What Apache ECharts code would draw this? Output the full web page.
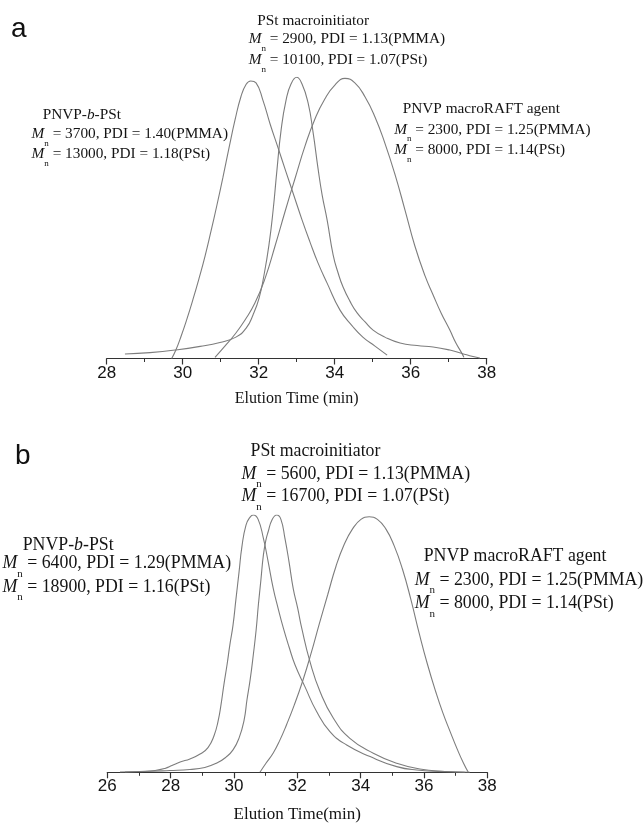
<!DOCTYPE html>
<html><head><meta charset="utf-8">
<script src="https://cdn.jsdelivr.net/npm/echarts@6/dist/echarts.min.js"></script>
<style>html,body{margin:0;padding:0;background:#fff}#c{width:643px;height:827px}</style>
</head><body><div id="c"></div>
<script>
// ---- Panel a data (elution time min, normalized intensity) ----
const ticksA = [28, 30, 32, 34, 36, 38];
const pnvpPstA = [[29.71,0],[29.82,0.03],[29.96,0.08],[30.11,0.14],[30.27,0.21],[30.43,0.285],[30.59,0.365],[30.74,0.45],[30.90,0.545],[31.06,0.645],[31.22,0.75],[31.38,0.85],[31.53,0.93],[31.67,0.975],[31.79,0.987],[31.93,0.980],[32.11,0.919],[32.30,0.834],[32.51,0.749],[32.72,0.663],[32.93,0.578],[33.14,0.493],[33.35,0.414],[33.56,0.340],[33.80,0.268],[34.14,0.172],[34.46,0.116],[34.74,0.076],[35.06,0.044],[35.38,0.012]];
const pstA = [[28.48,0.016],[29.14,0.021],[29.80,0.030],[30.46,0.043],[30.98,0.057],[31.40,0.076],[31.67,0.108],[31.85,0.155],[32.01,0.215],[32.14,0.297],[32.27,0.404],[32.38,0.528],[32.48,0.670],[32.59,0.813],[32.72,0.919],[32.85,0.976],[33.00,1.0],[33.14,0.976],[33.30,0.909],[33.43,0.805],[33.56,0.677],[33.67,0.581],[33.80,0.493],[33.96,0.368],[34.09,0.304],[34.22,0.254],[34.40,0.204],[34.59,0.162],[34.80,0.130],[35.01,0.101],[35.32,0.076],[35.72,0.055],[36.17,0.046],[36.59,0.041],[37.03,0.030],[37.35,0.018],[37.64,0.007],[37.82,0.002]];
const raftA = [[30.85,0.004],[31.11,0.044],[31.38,0.087],[31.64,0.137],[31.90,0.197],[32.17,0.286],[32.43,0.400],[32.69,0.521],[32.96,0.642],[33.22,0.756],[33.48,0.852],[33.74,0.923],[34.01,0.973],[34.27,0.996],[34.53,0.980],[34.80,0.930],[35.06,0.859],[35.32,0.766],[35.59,0.653],[35.85,0.528],[36.11,0.400],[36.38,0.293],[36.59,0.226],[36.80,0.162],[37.03,0.101],[37.19,0.055],[37.34,0.020],[37.40,0.004]];

// ---- Panel b data ----
const ticksB = [26, 28, 30, 32, 34, 36, 38];
const pnvpPstB = [[26.56,0.001],[27.03,0.003],[27.51,0.007],[27.82,0.015],[28.04,0.026],[28.30,0.040],[28.61,0.052],[28.93,0.071],[29.18,0.096],[29.37,0.142],[29.50,0.200],[29.59,0.262],[29.68,0.339],[29.78,0.417],[29.87,0.495],[29.97,0.572],[30.06,0.670],[30.16,0.778],[30.25,0.876],[30.38,0.961],[30.51,0.992],[30.61,1.0],[30.76,0.984],[30.93,0.909],[31.07,0.825],[31.24,0.715],[31.39,0.639],[31.56,0.560],[31.74,0.487],[31.93,0.417],[32.24,0.333],[32.61,0.236],[33.03,0.158],[33.56,0.106],[34.30,0.061],[35.14,0.022],[35.77,0.009],[36.82,0.002],[37.45,0]];
const pstB = [[26.40,0.001],[27.19,0.003],[27.98,0.007],[28.61,0.011],[29.08,0.019],[29.46,0.036],[29.75,0.059],[29.97,0.087],[30.16,0.133],[30.32,0.203],[30.41,0.281],[30.51,0.359],[30.61,0.456],[30.70,0.553],[30.77,0.650],[30.85,0.747],[30.93,0.845],[31.01,0.903],[31.08,0.935],[31.20,0.981],[31.35,1.0],[31.48,0.984],[31.61,0.909],[31.74,0.817],[31.87,0.715],[32.01,0.639],[32.14,0.560],[32.40,0.430],[32.72,0.313],[33.14,0.210],[33.66,0.132],[34.40,0.074],[35.14,0.035],[35.87,0.013],[36.66,0.003],[37.29,0]];
const raftB = [[30.82,0],[31.01,0.035],[31.24,0.075],[31.45,0.125],[31.66,0.185],[31.90,0.26],[32.17,0.355],[32.43,0.46],[32.69,0.575],[32.96,0.69],[33.22,0.80],[33.48,0.885],[33.74,0.945],[34.01,0.983],[34.27,0.993],[34.53,0.983],[34.80,0.945],[35.06,0.88],[35.32,0.79],[35.59,0.67],[35.85,0.54],[36.11,0.42],[36.38,0.31],[36.60,0.23],[36.82,0.16],[37.05,0.09],[37.25,0.035],[37.40,0]];

const SERIF = '"Liberation Serif","Times New Roman",serif';
const SANS = '"Liberation Sans",Arial,sans-serif';
const lineColor = '#7d7d7d';
const ink = '#141414';

function xAxisOf(grid, ticks, name, nameSize, gap) {
  return {
    type: 'value', gridIndex: grid,
    min: ticks[0], max: ticks[ticks.length - 1], interval: ticks[1] - ticks[0],
    name: name, nameLocation: 'middle', nameGap: gap,
    nameTextStyle: { fontFamily: SERIF, fontSize: nameSize, color: ink },
    axisLine: { show: true, onZero: false, lineStyle: { color: '#333', width: 1.2 } },
    axisTick: { show: true, inside: false, length: 6, lineStyle: { color: '#333', width: 1.2 } },
    minorTick: { show: true, splitNumber: 2, length: 3.5, lineStyle: { color: '#333', width: 1 } },
    axisLabel: { fontFamily: SANS, fontSize: 17, color: ink, margin: 6 },
    splitLine: { show: false }
  };
}
function yAxisOf(grid) {
  return { type: 'value', gridIndex: grid, min: 0, max: 1, show: false, splitLine: { show: false } };
}
function curve(data, idx) {
  return {
    type: 'line', data: data, xAxisIndex: idx, yAxisIndex: idx,
    showSymbol: false, smooth: 0.5, silent: true,
    lineStyle: { color: lineColor, width: 1.1 }
  };
}

function richText(x, y, text, size) {
  const lh = Math.round(size * 1.8);
  return {
    type: 'text', x: x, y: y, silent: true,
    style: {
      text: text, x: 0, y: 0, fill: ink, align: 'left', verticalAlign: 'middle',
      font: size + 'px ' + SERIF,
      rich: {
        r: { fontFamily: SERIF, fontSize: size, lineHeight: lh, color: ink },
        i: { fontFamily: SERIF, fontSize: size, fontStyle: 'italic', lineHeight: lh, color: ink },
        s: { fontFamily: SERIF, fontSize: Math.round(size * 0.62), lineHeight: lh, verticalAlign: 'bottom', color: ink }
      }
    }
  };
}
function mLine(x, y, rest, size) {
  return richText(x, y, '{i|M}{s|n}{r|' + rest + '}', size);
}

const fa = 15.3, fb = 17.8;
const graphics = [
  { type: 'text', x: 11, y: 29, style: { text: 'a', font: '28px ' + SANS, fill: '#111', verticalAlign: 'middle' } },
  richText(257.3, 20.7, '{r|PSt macroinitiator}', fa),
  mLine(248.7, 39.3, ' = 2900, PDI = 1.13(PMMA)', fa),
  mLine(248.7, 60, ' = 10100, PDI = 1.07(PSt)', fa),
  richText(42.7, 115, '{r|PNVP-}{i|b}{r|-PSt}', fa),
  mLine(31.6, 134, ' = 3700, PDI = 1.40(PMMA)', fa),
  mLine(31.6, 154, ' = 13000, PDI = 1.18(PSt)', fa),
  richText(402.7, 108.5, '{r|PNVP macroRAFT agent}', fa),
  mLine(394.2, 129.5, ' = 2300, PDI = 1.25(PMMA)', fa),
  mLine(394.2, 150, ' = 8000, PDI = 1.14(PSt)', fa),

  { type: 'text', x: 15, y: 456, style: { text: 'b', font: '28px ' + SANS, fill: '#111', verticalAlign: 'middle' } },
  richText(250.5, 451.7, '{r|PSt macroinitiator}', fb),
  mLine(241.5, 474, ' = 5600, PDI = 1.13(PMMA)', fb),
  mLine(241.5, 496.7, ' = 16700, PDI = 1.07(PSt)', fb),
  richText(22.7, 545.3, '{r|PNVP-}{i|b}{r|-PSt}', fb),
  mLine(2.5, 563.5, ' = 6400, PDI = 1.29(PMMA)', fb),
  mLine(2.5, 587, ' = 18900, PDI = 1.16(PSt)', fb),
  richText(423.7, 556.7, '{r|PNVP macroRAFT agent}', fb),
  mLine(414.7, 580, ' = 2300, PDI = 1.25(PMMA)', fb),
  mLine(414.7, 603.3, ' = 8000, PDI = 1.14(PSt)', fb)
];

const chart = echarts.init(document.getElementById('c'), null, { renderer: 'canvas' });
chart.setOption({
  animation: false,
  backgroundColor: '#fff',
  grid: [
    { left: 106.7, right: 156.3, top: 77.3, bottom: 468.5 },
    { left: 107.3, right: 155.7, top: 515, bottom: 54.7 }
  ],
  xAxis: [xAxisOf(0, ticksA, 'Elution Time (min)', 16, 32), xAxisOf(1, ticksB, 'Elution Time(min)', 17, 34)],
  yAxis: [yAxisOf(0), yAxisOf(1)],
  series: [curve(pnvpPstA, 0), curve(pstA, 0), curve(raftA, 0), curve(pnvpPstB, 1), curve(pstB, 1), curve(raftB, 1)],
  graphic: graphics
});
</script>
</body></html>
